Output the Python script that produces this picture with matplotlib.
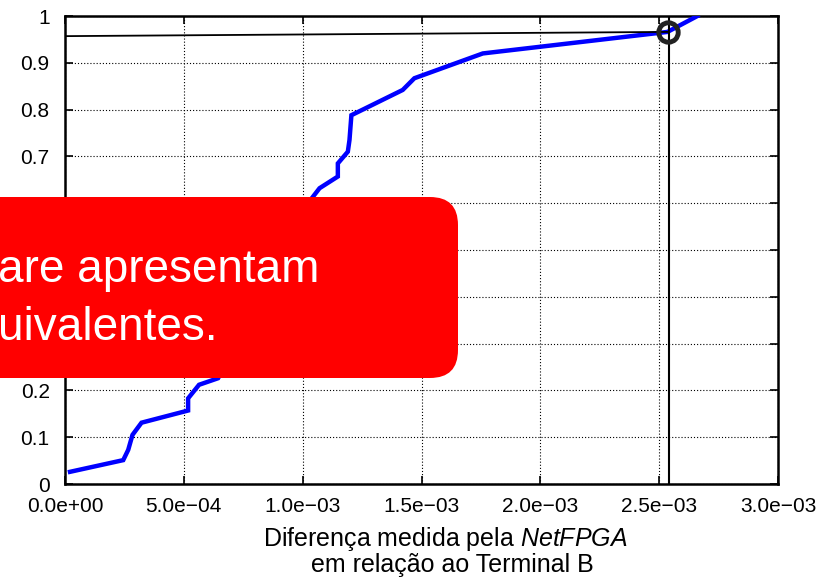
import matplotlib
matplotlib.use("Agg")
import matplotlib.pyplot as plt
from matplotlib.patches import FancyBboxPatch
from matplotlib.transforms import IdentityTransform

plt.rcParams['font.family'] = ['Liberation Sans', 'DejaVu Sans']
plt.rcParams['mathtext.fontset'] = 'custom'
plt.rcParams['mathtext.it'] = 'Liberation Sans:italic'
plt.rcParams['mathtext.rm'] = 'Liberation Sans'

diff = [2.1e-5, 2.45e-4, 2.66e-4, 2.84e-4, 3.22e-4, 5.18e-4, 5.18e-4, 5.64e-4, 6.44e-4,
        7.6e-4, 8.6e-4, 9.4e-4, 1.036e-3, 1.071e-3, 1.148e-3, 1.148e-3, 1.19e-3,
        1.197e-3, 1.205e-3, 1.421e-3, 1.47e-3, 1.758e-3, 2.248e-3, 2.535e-3, 2.661e-3]
cdf = [0.026, 0.051, 0.073, 0.105, 0.131, 0.157, 0.183, 0.212, 0.226,
       0.33, 0.44, 0.54, 0.609, 0.632, 0.657, 0.685, 0.710,
       0.735, 0.788, 0.842, 0.867, 0.920, 0.949, 0.966, 1.0]

# marked point and guide lines
mark_x = 2.538e-3
mark_y = 0.966
vline_x = 2.542e-3
hline_x = [8e-6, 2.538e-3]
hline_y = [0.957, 0.966]

xticks = [0, 5e-4, 1e-3, 1.5e-3, 2e-3, 2.5e-3, 3e-3]
xtick_labels = ['0.0e+00', '5.0e\u221204', '1.0e\u221203', '1.5e\u221203',
                '2.0e\u221203', '2.5e\u221203', '3.0e\u221203']
yticks = [0, 0.1, 0.2, 0.3, 0.4, 0.5, 0.6, 0.7, 0.8, 0.9, 1]
ytick_labels = ['0', '0.1', '0.2', '0.3', '0.4', '0.5', '0.6', '0.7', '0.8', '0.9', '1']

W, H = 836, 580
fig = plt.figure(figsize=(W / 100, H / 100), dpi=100)
ax = fig.add_axes([65 / W, (H - 484) / H, (778 - 65) / W, (484 - 16) / H])

ax.plot(diff, cdf, color='#0000ff', lw=3.2, solid_joinstyle='miter', zorder=3, clip_on=True)
ax.plot(hline_x, hline_y, color='black', lw=1.3, zorder=4)
ax.axvline(vline_x, color='black', lw=1.5, zorder=4)
ax.plot([mark_x], [mark_y], marker='o', ms=14, mfc='none', mec='#222222', mew=3.5, zorder=5)

ax.set_xlim(0, 3e-3)
ax.set_ylim(0, 1)
ax.set_xticks(xticks)
ax.set_xticklabels(xtick_labels)
ax.set_yticks(yticks)
ax.set_yticklabels(ytick_labels)
ax.tick_params(direction='in', length=6, width=1.2, top=True, right=True,
               labelsize=15, colors='black')
ax.tick_params(axis='x', pad=9)
ax.tick_params(axis='y', pad=11)
ax.grid(True, color='black', linestyle=(0, (1, 1.8)), lw=0.8)
for s in ax.spines.values():
    s.set_linewidth(1.8)

fig.text(445 / W, (H - 546) / H, 'Diferença medida pela $\\it{NetFPGA}$',
         ha='center', va='baseline', fontsize=18)
fig.text(452 / W, (H - 572) / H, 'em relação ao Terminal B',
         ha='center', va='baseline', fontsize=18)

# red callout box overlapping the chart
box = FancyBboxPatch((-60, H - 378 + 28), 458 + 60 - 28, 378 - 197 - 56,
                     boxstyle='round,pad=28', transform=IdentityTransform(),
                     facecolor='#ff0000', edgecolor='none', zorder=10)
fig.add_artist(box)
fig.text(-2 / W, (H - 282) / H, 'are apresentam', color='white', fontsize=33,
         ha='left', va='baseline', zorder=11)
fig.text(-2 / W, (H - 340) / H, 'uivalentes.', color='white', fontsize=33,
         ha='left', va='baseline', zorder=11)

fig.savefig('out.png', dpi=100)
